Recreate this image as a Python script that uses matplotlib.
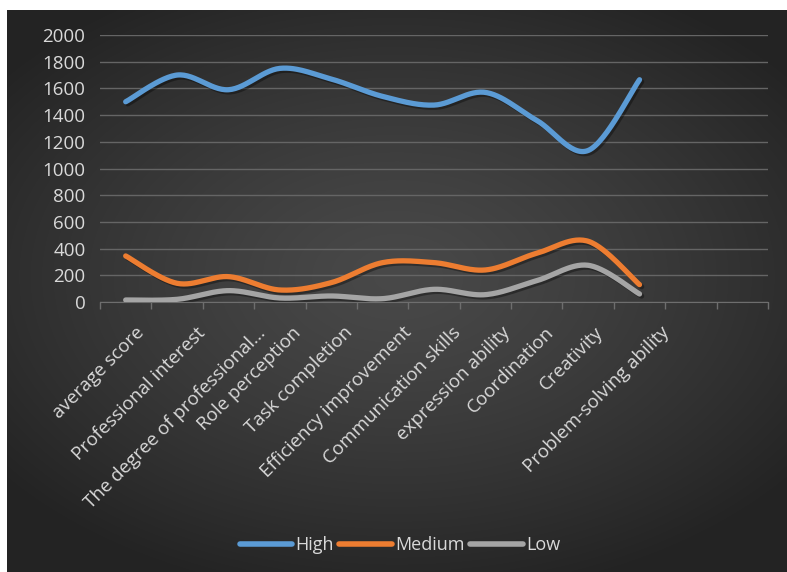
import matplotlib
matplotlib.use("Agg")
import matplotlib.pyplot as plt
import matplotlib.patheffects as pe
import matplotlib.transforms as mtransforms
import numpy as np

# =============================================================================
# DATA
# =============================================================================
categories = ['average score', 'Professional interest',
              'The degree of professional...', 'Role perception',
              'Task completion', 'Efficiency improvement',
              'Communication skills', 'expression ability',
              'Coordination', 'Creativity', 'Problem-solving ability',
              '', '']
high = [1500, 1700, 1590, 1750, 1670, 1540, 1475, 1570, 1360, 1135, 1665]
medium = [345, 140, 190, 90, 145, 295, 295, 240, 365, 455, 130]
low = [15, 20, 85, 30, 45, 25, 95, 55, 160, 275, 60]
series_names = ['High', 'Medium', 'Low']
yticks = [0, 200, 400, 600, 800, 1000, 1200, 1400, 1600, 1800, 2000]


def smooth(y, n=30):
    # Catmull-Rom curve through the points (like Excel's smoothed line)
    y = np.asarray(y, dtype=float)
    x = np.arange(len(y), dtype=float)
    p = np.column_stack([x, y])
    p = np.vstack([p[0], p, p[-1]])
    out = []
    t = np.linspace(0, 1, n, endpoint=False)[:, None]
    for i in range(1, len(p) - 2):
        p0, p1, p2, p3 = p[i - 1], p[i], p[i + 1], p[i + 2]
        seg = 0.5 * ((2 * p1) + (-p0 + p2) * t +
                     (2 * p0 - 5 * p1 + 4 * p2 - p3) * t ** 2 +
                     (-p0 + 3 * p1 - 3 * p2 + p3) * t ** 3)
        out.append(seg)
    out.append(p[-2][None, :])
    out = np.vstack(out)
    return out[:, 0], out[:, 1]


plt.rcParams['font.family'] = ['Open Sans', 'DejaVu Sans']
txt = '#d9d9d9'

fig = plt.figure(figsize=(7.87, 5.72), dpi=100, facecolor='white')

# dark chart area with a soft radial gradient
bg = fig.add_axes([7 / 787, 0, 780 / 787, 562 / 572])
bg.set_axis_off()
gx, gy = np.meshgrid(np.linspace(-1, 1, 400), np.linspace(-1, 1, 300))
r = np.sqrt((gx * 0.9) ** 2 + ((gy + 0.05) * 1.0) ** 2)
shade = np.clip(0.285 - 0.12 * r ** 1.3, 0.14, 0.3)
bg.imshow(np.dstack([shade, shade, shade]), aspect='auto',
          extent=[0, 1, 0, 1], interpolation='bilinear')

ax = fig.add_axes([100 / 787, 1 - 302 / 572, 668 / 787, 267 / 572])
ax.patch.set_alpha(0)

colors = ['#5b9bd5', '#ed7d31', '#a5a5a5']
for vals, c, name in zip([high, medium, low], colors, series_names):
    sx, sy = smooth(vals)
    ax.plot(sx, sy, color=c, lw=3.8, solid_capstyle='round', label=name,
            path_effects=[pe.SimpleLineShadow(offset=(1.5, -1.5), alpha=0.35,
                                              shadow_color='black'),
                          pe.Normal()], zorder=3)

ax.set_xlim(-0.5, len(categories) - 0.5)
ax.set_ylim(0, 2000)
ax.set_yticks(yticks)
ax.set_yticklabels([str(v) for v in yticks], color=txt, fontsize=13.5)
ax.yaxis.grid(True, color='#656565', lw=1)
ax.set_axisbelow(True)
ax.tick_params(axis='y', length=0, pad=10.5)

ax.set_xticks(np.arange(len(categories) + 1) - 0.5)
ax.set_xticklabels([])
ax.tick_params(axis='x', length=5, color='#6e6e6e', width=1, direction='out')
for s in ['top', 'right', 'left']:
    ax.spines[s].set_visible(False)
ax.spines['bottom'].set_color('#6e6e6e')

# rotated category labels; longer labels end a little further right
for i, lab in enumerate(categories):
    if lab:
        dx = 1.15 * len(lab) + 1
        off = mtransforms.ScaledTranslation(dx / 100, -28 / 100,
                                            fig.dpi_scale_trans)
        ax.text(i, 0, lab, transform=ax.get_xaxis_transform() + off,
                rotation=45, rotation_mode='anchor', ha='right', va='center',
                color=txt, fontsize=13.5)

leg = fig.legend(loc='center', bbox_to_anchor=(400 / 787, 1 - 545 / 572),
                 ncol=3, frameon=False, fontsize=13, handlelength=2.9,
                 handletextpad=0.2, columnspacing=0.3, labelcolor=txt)
for h in leg.legend_handles:
    h.set_path_effects([])
    h.set_linewidth(4)

fig.savefig('out.png', dpi=100, facecolor='white')
